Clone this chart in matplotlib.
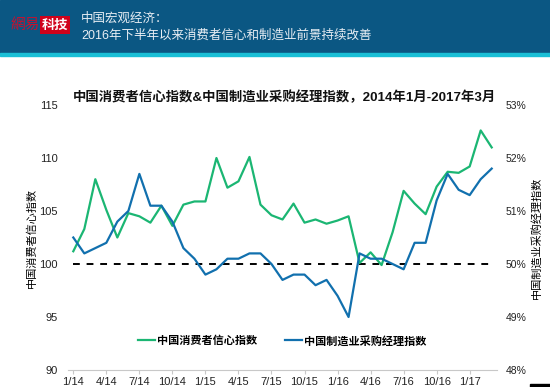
import numpy as np
import matplotlib.pyplot as plt
from matplotlib.patches import Rectangle

plt.rcParams['font.family'] = ['Liberation Sans', 'Noto Sans CJK SC', 'DejaVu Sans']

# 数据：2014年1月 - 2017年3月
consumer_confidence = [101.2, 103.3, 108.0, 105.1, 102.5, 104.8, 104.5, 103.9, 105.5, 103.6,
                       105.6, 105.9, 105.9, 110.0, 107.2, 107.8, 110.1, 105.6, 104.6, 104.2,
                       105.7, 103.9, 104.2, 103.8, 104.1, 104.5, 100.1, 101.1, 99.9, 103.0,
                       106.9, 105.7, 104.7, 107.3, 108.7, 108.6, 109.2, 112.6, 111.0]
pmi = [50.5, 50.2, 50.3, 50.4, 50.8, 51.0, 51.7, 51.1, 51.1, 50.8,
       50.3, 50.1, 49.8, 49.9, 50.1, 50.1, 50.2, 50.2, 50.0, 49.7,
       49.8, 49.8, 49.6, 49.7, 49.4, 49.0, 50.2, 50.1, 50.1, 50.0,
       49.9, 50.4, 50.4, 51.2, 51.7, 51.4, 51.3, 51.6, 51.8]
tick_labels = ['1/14', '4/14', '7/14', '10/14', '1/15', '4/15', '7/15',
               '10/15', '1/16', '4/16', '7/16', '10/16', '1/17']

green = '#1BB673'
blue = '#1170AE'

months = np.arange(len(consumer_confidence))

fig = plt.figure(figsize=(5.5, 3.87), dpi=100)

# 顶部标题栏
fig.patches.append(Rectangle((0, 1 - 53 / 387), 1, 53 / 387, transform=fig.transFigure,
                             color='#0B5783', zorder=0))
fig.patches.append(Rectangle((0, 1 - 56 / 387), 1, 3 / 387, transform=fig.transFigure,
                             color='#1ABFD6', zorder=0))
fig.patches.append(Rectangle((530 / 550, 0), 20 / 550, 3 / 387, transform=fig.transFigure,
                             color='black', zorder=0))
fig.text(10 / 550, 1 - 25 / 387, '網易', color='#C8102E', fontsize=10.5,
         family=['Noto Sans CJK TC'], va='center', ha='left')
fig.text(42 / 550, 1 - 25 / 387, '科技', color='white', fontsize=9.5, fontweight='bold',
         family=['Noto Sans CJK SC'], va='center', ha='left',
         bbox=dict(boxstyle='square,pad=0.12', fc='#D0021B', ec='none'))
fig.text(81 / 550, 1 - 19 / 387, '中国宏观经济：', color='#E8EEF4', fontsize=9,
         va='center', ha='left')
fig.text(81 / 550, 1 - 36 / 387, '2016年下半年以来消费者信心和制造业前景持续改善',
         color='#E8EEF4', fontsize=9, va='center', ha='left')

ax = fig.add_axes([67.8 / 550, 17 / 387, 429.4 / 550, 265 / 387])
ax2 = ax.twinx()

ax.plot(months, consumer_confidence, color=green, lw=1.6, label='中国消费者信心指数', zorder=3)
ax2.plot(months, pmi, color=blue, lw=1.6, label='中国制造业采购经理指数', zorder=3)
ax.plot([0, 38], [100, 100], color='black', lw=1.4, ls=(0, (3.5, 3.5)), zorder=2)

ax.set_xlim(-0.5, 38.5)
ax.set_ylim(90, 115)
ax2.set_ylim(48, 53)
ax.set_yticks([90, 95, 100, 105, 110, 115])
ax2.set_yticks([48, 49, 50, 51, 52, 53])
ax2.set_yticklabels(['48%', '49%', '50%', '51%', '52%', '53%'])
ax.set_xticks(months[::3])
ax.set_xticklabels(tick_labels)

for a in (ax, ax2):
    for s in ('top', 'left', 'right'):
        a.spines[s].set_visible(False)
    a.spines['bottom'].set_color('#C8C8C8')
ax2.spines['bottom'].set_visible(False)

ax.tick_params(axis='x', colors='#C8C8C8', length=3, labelcolor='#222222', labelsize=8, pad=2)
ax.tick_params(axis='y', length=0, labelsize=8, labelcolor='#222222', pad=7)
ax2.tick_params(axis='y', length=0, labelsize=7.5, labelcolor='#222222', pad=6)

ax.set_ylabel('中国消费者信心指数', fontsize=8, labelpad=2)
ax2.set_ylabel('中国制造业采购经理指数', fontsize=8, rotation=90, labelpad=3)

fig.text(284 / 550, 1 - 97 / 387,
         '中国消费者信心指数&中国制造业采购经理指数，2014年1月-2017年3月',
         fontsize=9.6, fontweight='bold', ha='center', va='center', color='#111111')

h1, l1 = ax.get_legend_handles_labels()
h2, l2 = ax2.get_legend_handles_labels()
leg = ax.legend(h1 + h2, l1 + l2, loc='center', bbox_to_anchor=(0.5, 0.11), ncol=2,
                frameon=False, handlelength=1.5, handletextpad=0.2,
                columnspacing=2.5, prop={'weight': 'bold', 'size': 8})

fig.savefig('out.png', dpi=100, facecolor='white')
